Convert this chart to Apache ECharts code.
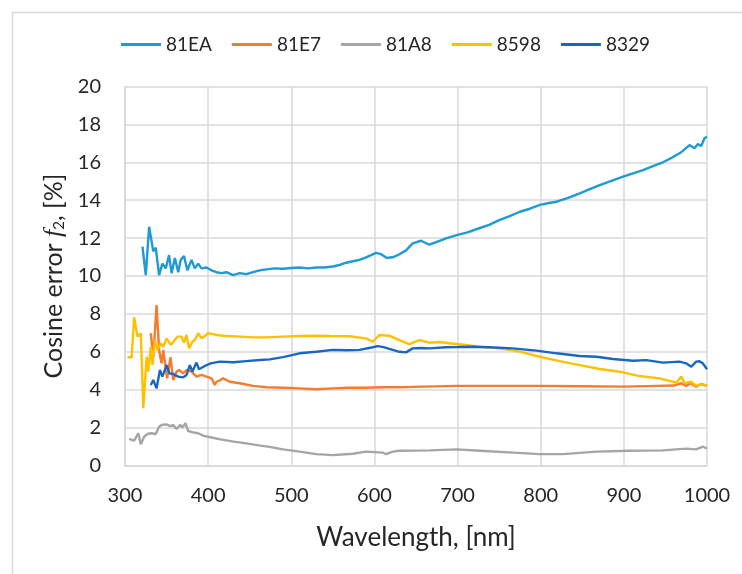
<!DOCTYPE html>
<html>
<head>
<meta charset="utf-8">
<script src="https://cdn.jsdelivr.net/npm/echarts@6/dist/echarts.min.js"></script>
<style>html,body{margin:0;padding:0;background:#fff}#c{width:742px;height:574px}</style>
</head>
<body>
<div id="c"></div>
<script>
const seriesNames = ['81EA', '81E7', '81A8', '8598', '8329'];
const colors = ['#1E9AD6', '#F57C2C', '#A5A5A5', '#FFC000', '#1A66C2'];
const xTicks = [300, 400, 500, 600, 700, 800, 900, 1000];
const yTicks = [0, 2, 4, 6, 8, 10, 12, 14, 16, 18, 20];

const wl_81EA = [321,325,329,334,337,341,345,349,353,356,360,364,367,371,375,380,384,388,392,398,404,410,416,422,430,438,446,454,462,470,480,490,500,510,520,530,540,550,558,566,574,582,590,596,602,608,615,623,630,638,646,656,666,676,686,699,712,726,738,750,762,775,787,799,810,819,833,847,859,871,885,899,911,923,935,947,958,968,979,985,989,993,997,1000];
const v_81EA = [11.55,10.05,12.6,11.3,11.5,10.05,10.65,10.4,11.1,10.15,10.95,10.2,10.85,11.05,10.3,10.85,10.4,10.65,10.4,10.45,10.3,10.2,10.15,10.2,10.05,10.15,10.1,10.2,10.3,10.35,10.4,10.38,10.42,10.45,10.4,10.45,10.45,10.5,10.58,10.7,10.78,10.85,10.98,11.1,11.22,11.15,10.95,11.0,11.15,11.35,11.72,11.86,11.65,11.82,11.99,12.16,12.3,12.52,12.7,12.95,13.15,13.39,13.55,13.75,13.85,13.92,14.12,14.36,14.58,14.8,15.02,15.24,15.42,15.59,15.8,16.0,16.25,16.5,16.91,16.74,16.96,16.86,17.27,17.35];

const wl_81E7 = [331,334,338,341,344,346,350.7,354.7,358,362,365,370,374,380,386,392,398,404,408,410,414.8,418,426,438,454,470,490,510,530,550,570,590,610,630,660,700,750,800,850,900,940,960,969,975,980,987,993,1000];
const v_81E7 = [6.98,5.74,8.47,6.09,5.39,6.09,4.6,5.71,4.51,4.95,5.04,4.86,5.04,4.95,4.69,4.78,4.69,4.6,4.25,4.42,4.51,4.6,4.42,4.34,4.2,4.13,4.1,4.07,4.02,4.07,4.1,4.1,4.13,4.13,4.16,4.2,4.2,4.2,4.18,4.16,4.2,4.22,4.34,4.2,4.34,4.16,4.3,4.2];

const wl_81A8 = [305,311,316,319,323,327,331,337,341,344,349.5,354.7,358,362,366.7,369,372.7,376,382,388,394.7,402.8,414.8,430.8,446,462.8,474,490,510,530,550,574,590,610,614,622,630,667,699,727,767,799,827,867,907,947,975,987,995,1000];
const v_81A8 = [1.4,1.31,1.7,1.12,1.52,1.66,1.7,1.66,2.05,2.14,2.17,2.08,2.14,1.93,2.14,2.0,2.23,1.82,1.75,1.7,1.56,1.49,1.38,1.26,1.17,1.05,0.98,0.85,0.73,0.6,0.55,0.62,0.73,0.68,0.6,0.73,0.78,0.8,0.85,0.78,0.68,0.6,0.6,0.73,0.78,0.8,0.89,0.85,0.99,0.9];

const wl_8598 = [303,308,311,315,319,322,326,328,331,333,336,339,343,346,350,355,358,363,368,371,374,377,381,384,388,392,396,400,410,422,439,454,470,490,510,530,546,570,590,598,606,618,630,642,654,666,678,690,710,726,750,775,799,823,847,871,895,919,943,955,963,969,973,981,987,993,1000];
const v_8598 = [5.71,5.71,7.82,6.8,6.98,3.02,5.74,4.95,6.27,5.3,6.62,6.09,6.45,6.27,6.71,6.36,6.53,6.8,6.8,6.48,6.89,6.18,6.53,6.62,6.98,6.71,6.83,6.98,6.89,6.83,6.8,6.76,6.76,6.8,6.83,6.85,6.83,6.82,6.71,6.53,6.89,6.85,6.62,6.41,6.62,6.48,6.52,6.45,6.36,6.27,6.18,6.01,5.74,5.51,5.3,5.09,4.95,4.72,4.6,4.47,4.37,4.69,4.34,4.42,4.2,4.3,4.2];

const wl_8329 = [331,334,338,342,345,350,353.5,358,364,370,374,378,381,386,389,396,403,414,430,446,462,474,490,510,530,550,566,582,598,604,611,618,630,638,646,656,666,686,700,718,738,766,795,819,847,867,887,911,927,947,967,975,981,987,991,995,1000];
const v_8329 = [4.25,4.51,4.07,5.04,4.69,5.3,4.86,4.83,4.69,4.65,4.78,5.3,4.95,5.43,5.08,5.25,5.39,5.48,5.45,5.51,5.57,5.6,5.72,5.92,6.0,6.1,6.08,6.1,6.24,6.3,6.25,6.15,6.0,5.97,6.18,6.2,6.18,6.24,6.25,6.27,6.24,6.18,6.06,5.92,5.78,5.74,5.62,5.53,5.56,5.43,5.48,5.39,5.21,5.48,5.5,5.39,5.08];

const wlArrays = [wl_81EA, wl_81E7, wl_81A8, wl_8598, wl_8329];
const valArrays = [v_81EA, v_81E7, v_81A8, v_8598, v_8329];

const FONT = 'Lato';
const TXT = '#262626';
const GRID = '#d9d9d9';

const chart = echarts.init(document.getElementById('c'), null, {renderer: 'canvas'});
chart.setOption({
  animation: false,
  backgroundColor: '#fff',
  color: colors,
  graphic: [{
    type: 'rect', left: 10, top: 10, silent: true,
    shape: {x: 0, y: 0, width: 800, height: 700},
    style: {fill: 'none', stroke: '#d9d9d9', lineWidth: 1.5}
  }],
  legend: {
    left: 121, top: 35, padding: 0,
    icon: 'rect', itemWidth: 40, itemHeight: 3, itemGap: 20,
    textStyle: {fontFamily: FONT, fontSize: 19, color: TXT},
    data: seriesNames
  },
  grid: {left: 125, right: 35, top: 86.5, bottom: 108.5},
  xAxis: {
    type: 'value', min: 300, max: 1000, interval: 100,
    name: 'Wavelength, [nm]', nameLocation: 'middle', nameGap: 59,
    nameTextStyle: {fontFamily: FONT, fontSize: 26, color: TXT},
    axisLine: {show: true, lineStyle: {color: GRID, width: 1.5}},
    axisTick: {show: false},
    splitLine: {show: true, lineStyle: {color: GRID, width: 1.5}},
    axisLabel: {fontFamily: FONT, fontSize: 20, color: TXT, margin: 20,
      customValues: xTicks, formatter: v => String(v)}
  },
  yAxis: {
    type: 'value', min: 0, max: 20, interval: 2,
    name: '{a|Cosine error }{i|f}{s|2}{a|, [%]}', nameLocation: 'middle', nameGap: 33, nameRotate: 90,
    nameTextStyle: {
      rich: {
        a: {fontFamily: FONT, fontSize: 25, color: TXT, lineHeight: 26},
        i: {fontFamily: 'Liberation Serif', fontStyle: 'italic', fontSize: 26, color: TXT, lineHeight: 26},
        s: {fontFamily: FONT, fontSize: 15, color: TXT, lineHeight: 14, verticalAlign: 'bottom'}
      }
    },
    axisLine: {show: true, lineStyle: {color: GRID, width: 1.5}},
    axisTick: {show: false},
    splitLine: {show: true, lineStyle: {color: GRID, width: 1.5}},
    axisLabel: {fontFamily: FONT, fontSize: 20, color: TXT, margin: 24,
      customValues: yTicks, formatter: v => String(v)}
  },
  series: seriesNames.map((n, i) => ({
    name: n, type: 'line', showSymbol: false, symbol: 'none',
    lineStyle: {width: 2.4, color: colors[i]},
    itemStyle: {color: colors[i]},
    data: wlArrays[i].map((w, j) => [w, valArrays[i][j]])
  }))
});
</script>
</body>
</html>
